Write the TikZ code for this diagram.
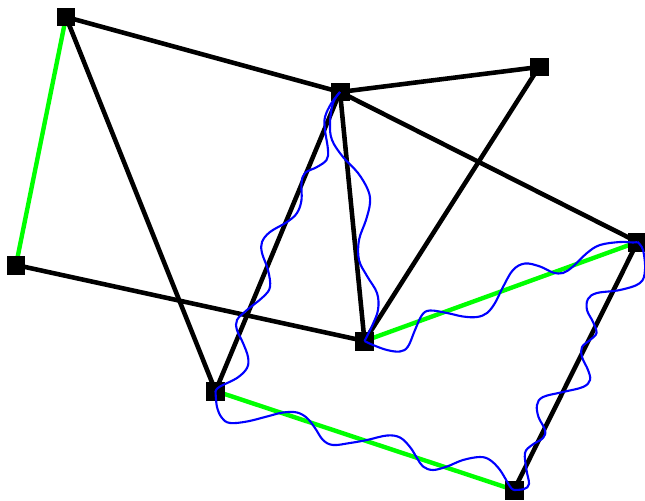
\documentclass[tikz,border=0pt]{standalone}
\begin{document}
\begin{tikzpicture}[x=0.02cm,y=-0.02cm,
  vert/.style={fill=black,minimum size=0.38cm,inner sep=0pt,outer sep=0pt},
  edge/.style={line width=2.6pt,black},
  gedge/.style={line width=2.5pt,green},
  wave/.style={blue,line width=1.2pt,line join=round}]
\useasboundingbox (0,0) rectangle (645,500);
\coordinate (A) at (66,17);
\coordinate (B) at (340,92);
\coordinate (C) at (539,67);
\coordinate (D) at (16,265);
\coordinate (E) at (637.5,242);
\coordinate (F) at (364.5,341);
\coordinate (G) at (215.5,391);
\coordinate (H) at (514,490);
\draw[edge] (A) -- (B);
\draw[edge] (A) -- (G);
\draw[edge] (B) -- (C);
\draw[edge] (B) -- (F);
\draw[edge] (B) -- (E);
\draw[edge] (C) -- (F);
\draw[edge] (D) -- (F);
\draw[edge] (G) -- (B);
\draw[edge] (E) -- (H);
\draw[gedge] (A) -- (D);
\draw[gedge] (F) -- (E);
\draw[gedge] (G) -- (H);
\foreach \n in {A,B,C,D,E,F,G,H} \node[vert] (n\n) at (\n) {};
% B -> F
\draw[wave] plot[smooth,tension=0.6] coordinates {(B) (333,103) (330,123) (332,140) (343,157) (358,173) (368,190) (370,203) (366,220) (359,240) (359,260) (367,276) (377,293) (378,310) (372,326) (F)};
% F -> E
\draw[wave] plot[smooth,tension=0.6] coordinates {(F) (373,345) (387,350) (400,351.5) (408,346.5) (415,330) (422,315) (430,310.5) (447,313) (463,316.5) (477,317) (487,313) (495,303) (503,287) (513,270) (525,263.5) (540,266.5) (553,272.5) (563,273) (573,266.5) (587,253) (600,245) (620,242) (633,242.5) (E)};
% E -> H
\draw[wave] plot[smooth,tension=0.6] coordinates {(E) (643,250) (645,270) (640,283) (620,290) (597,293) (588,299) (587,310) (593,322) (596.5,333) (590,340) (582,347) (582,357) (588,370) (590,380) (583,387) (563,392) (543,397) (537,405) (538.5,417) (545,430) (543,438) (532,445) (525,453) (526.5,470) (529,484) (524,489) (H)};
% H -> G
\draw[wave] plot[smooth,tension=0.6] coordinates {(H) (510,486.5) (500,470) (490,460) (480,457) (463,460) (447,466.5) (433,470) (423,466.5) (417,458) (410,447) (400,437.5) (387,435.5) (367,440) (350,443) (333,445) (323,440) (315,428) (307,418) (297,412.5) (283,412.5) (267,416.5) (247,421.5) (230,423) (222,418) (217,407) (G)};
% G -> B
\draw[wave] plot[smooth,tension=0.6] coordinates {(G) (220,386.5) (237,378) (247,368) (248,357) (243,343) (237,330) (237,320) (247,310) (263,297) (270,287) (268,270) (262,253) (262,242) (270,232) (287,222) (297,213) (301.5,200) (301.5,183) (305,173) (317,167) (326.5,160) (328,150) (325,130) (325,117) (331.5,103) (B)};
\end{tikzpicture}
\end{document}
